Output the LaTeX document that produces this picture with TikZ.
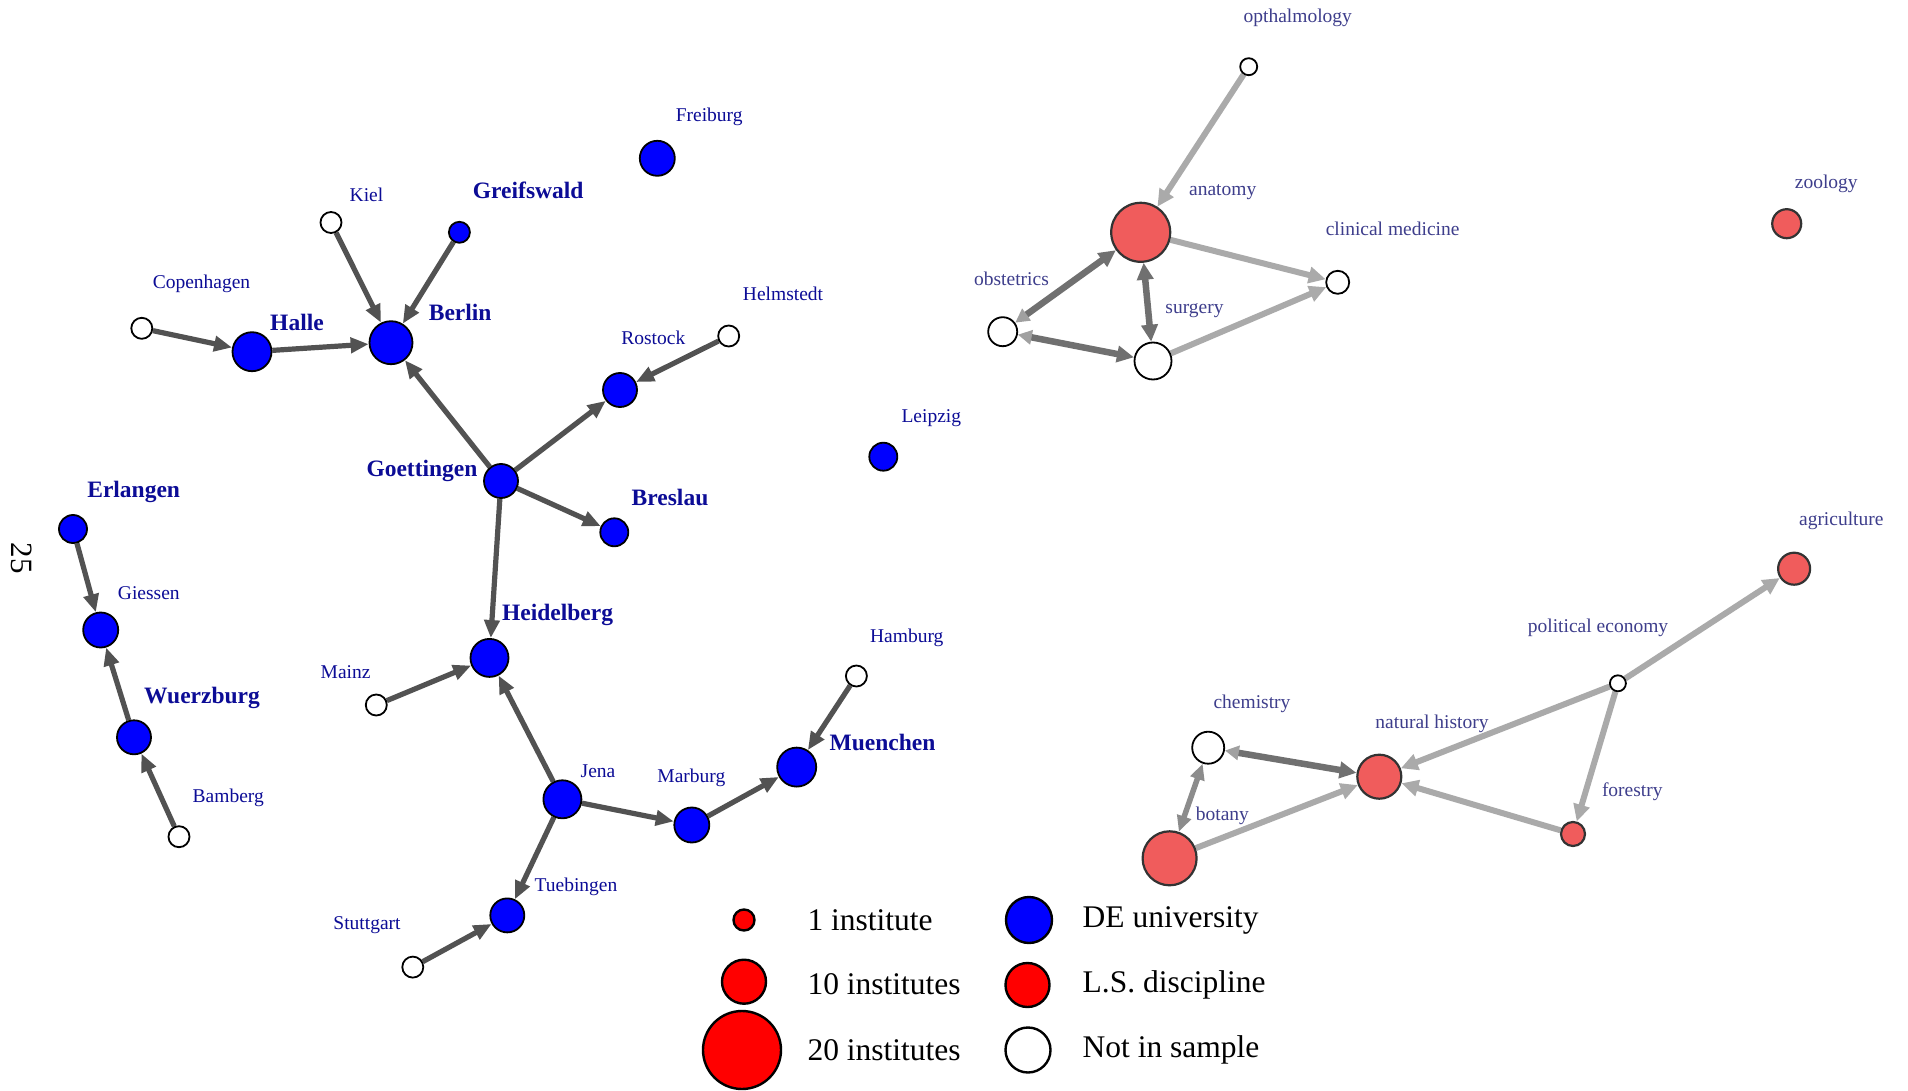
\documentclass[tikz,border=0pt]{standalone}
\usepackage{fontspec}
\setmainfont{Liberation Serif}
\usetikzlibrary{arrows.meta}
\definecolor{labblue}{RGB}{12,12,150}
\definecolor{rlabcol}{RGB}{62,62,140}
\definecolor{lsred}{RGB}{240,92,92}
\definecolor{ldark}{RGB}{82,82,82}
\definecolor{rdarkc}{RGB}{112,112,112}
\definecolor{rmidc}{RGB}{140,140,140}
\definecolor{rlightc}{RGB}{170,170,170}
\definecolor{tipsoft}{RGB}{160,160,160}
\pgfdeclarelayer{bgfill}
\pgfdeclarelayer{edges}
\pgfsetlayers{bgfill,edges,main}
\tikzset{
  sz/.style={minimum size=#1pt},
  uni/.style={circle, draw=black, fill=blue, line width=1.8pt, inner sep=0pt},
  nis/.style={circle, draw=black, fill=white, line width=1.8pt, inner sep=0pt},
  lsd/.style={circle, draw=black!80, fill=lsred, line width=2.2pt, inner sep=0pt},
  legred/.style={circle, draw=black, fill=red, line width=2.4pt, inner sep=0pt},
  legblue/.style={circle, draw=black, fill=blue, line width=2.4pt, inner sep=0pt},
  legwhite/.style={circle, draw=black, fill=white, line width=2.4pt, inner sep=0pt},
  lab/.style={text=labblue, font=\fontsize{19.5}{20}\selectfont, inner sep=0pt},
  blab/.style={text=labblue, font=\fontsize{23.5}{24}\selectfont\bfseries, inner sep=0pt},
  rlab/.style={text=rlabcol, font=\fontsize{19.5}{20}\selectfont, inner sep=0pt},
  legtxt/.style={text=black, font=\fontsize{31.5}{32}\selectfont, inner sep=0pt, anchor=west},
  ledge/.style={draw=ldark, line width=5.2pt, -{Triangle[length=18pt,width=15pt,color=ldark]}},
  rdark/.style={draw=rdarkc, line width=6.5pt, -{Triangle[length=17pt,width=16pt,color=rdarkc]}},
  rdarkbi/.style={draw=rdarkc, line width=6.5pt, {Triangle[length=14pt,width=14pt,color=tipsoft]}-{Triangle[length=17pt,width=16pt,color=rdarkc]}},
  rdarkbb/.style={draw=rdarkc, line width=6.5pt, {Triangle[length=17pt,width=16pt,color=rdarkc]}-{Triangle[length=17pt,width=16pt,color=rdarkc]}},
  rmidbi/.style={draw=rmidc, line width=5.5pt, {Triangle[length=16pt,width=14pt,color=rmidc]}-{Triangle[length=16pt,width=14pt,color=rmidc]}},
  rlight/.style={draw=rlightc, line width=6pt, -{Triangle[length=17pt,width=16pt,color=rlightc]}},
}
\begin{document}
\begin{tikzpicture}[x=1pt,y=-1pt]
\begin{pgfonlayer}{bgfill}
\path[use as bounding box, fill=white] (0,0) rectangle (1908,1091);
\end{pgfonlayer}

% ---------- left network: nodes ----------
\node[nis,sz=21]  (kiel)   at (331,222.5) {};
\node[uni,sz=21]  (greif)  at (459.4,232.3) {};
\node[nis,sz=21]  (copen)  at (141.8,328.3) {};
\node[uni,sz=39]  (halle)  at (252,351.7) {};
\node[uni,sz=43]  (berlin) at (391,342.7) {};
\node[uni,sz=34]  (goett)  at (501,481) {};
\node[uni,sz=34]  (rostock) at (620,390) {};
\node[nis,sz=21]  (helm)   at (728.7,336) {};
\node[uni,sz=35]  (freib)  at (657.3,158.3) {};
\node[uni,sz=28]  (leipz)  at (883.3,456.7) {};
\node[uni,sz=28]  (bresl)  at (614.3,532.3) {};
\node[uni,sz=38]  (heidel) at (489.5,657.9) {};
\node[nis,sz=21]  (mainz)  at (376.3,705) {};
\node[uni,sz=38]  (jena)   at (562.4,799.3) {};
\node[uni,sz=35]  (marb)   at (691.8,825) {};
\node[uni,sz=39]  (muen)   at (796.7,767.1) {};
\node[nis,sz=21]  (hamb)   at (856.4,676) {};
\node[uni,sz=34]  (tueb)   at (507.3,915.4) {};
\node[nis,sz=21]  (stutt)  at (412.8,967.1) {};
\node[uni,sz=28]  (erl)    at (73,529) {};
\node[uni,sz=35]  (giess)  at (100.7,630) {};
\node[uni,sz=34]  (wuerz)  at (134,737.3) {};
\node[nis,sz=21]  (bamb)   at (179,836.7) {};

% ---------- left network: labels ----------
\node[lab]  (l-kiel)   at (366.5,195) {Kiel};
\node[blab] (l-greif)  at (528.2,190.5) {Greifswald};
\node[lab]  (l-copen)  at (201.5,284) {Copenhagen};
\node[blab] (l-halle)  at (297,322) {Halle};
\node[blab] (l-berlin) at (460.2,312.5) {Berlin};
\node[blab] (l-goett)  at (422,470.5) {Goettingen};
\node[lab]  (l-rostock) at (653.3,337.5) {Rostock};
\node[lab]  (l-helm)   at (783,294) {Helmstedt};
\node[lab]  (l-freib)  at (709.2,116.5) {Freiburg};
\node[lab]  (l-leipz)  at (931.3,418) {Leipzig};
\node[blab] (l-bresl)  at (670,497) {Breslau};
\node[blab] (l-heidel) at (557.5,615) {Heidelberg};
\node[lab]  (l-mainz)  at (345.6,672.5) {Mainz};
\node[lab]  (l-jena)   at (598,771) {Jena};
\node[lab]  (l-marb)   at (691.4,778) {Marburg};
\node[blab] (l-muen)   at (882.6,742.5) {Muenchen};
\node[lab]  (l-hamb)   at (906.8,638) {Hamburg};
\node[lab]  (l-tueb)   at (576,887) {Tuebingen};
\node[lab]  (l-stutt)  at (367,925) {Stuttgart};
\node[blab] (l-erl)    at (133.7,491.5) {Erlangen};
\node[lab]  (l-giess)  at (148.8,593.5) {Giessen};
\node[blab] (l-wuerz)  at (202,697.5) {Wuerzburg};
\node[lab]  (l-bamb)   at (228.3,797.5) {Bamberg};

% ---------- right network: nodes ----------
\node[nis,sz=17]  (opth) at (1248.7,66.7) {};
\node[lsd,sz=59]  (anat) at (1140.7,232.3) {};
\node[nis,sz=23]  (clin) at (1337.7,282.3) {};
\node[nis,sz=29]  (obst) at (1002.7,331.7) {};
\node[nis,sz=37]  (surg) at (1153,361) {};
\node[lsd,sz=29]  (zool) at (1786.7,223.7) {};
\node[lsd,sz=32]  (agri) at (1794.1,568.7) {};
\node[nis,sz=16]  (pole) at (1617.9,683.3) {};
\node[nis,sz=32]  (chem) at (1208.2,747.7) {};
\node[lsd,sz=44]  (nath) at (1379.3,776.7) {};
\node[lsd,sz=24]  (fore) at (1573,834) {};
\node[lsd,sz=54]  (bota) at (1169.6,858.3) {};

% ---------- right network: labels ----------
\node[rlab] (l-opth) at (1297.8,17.5) {opthalmology};
\node[rlab] (l-anat) at (1222.7,192.5) {anatomy};
\node[rlab] (l-clin) at (1392.6,229) {clinical medicine};
\node[rlab] (l-obst) at (1011.5,279) {obstetrics};
\node[rlab] (l-surg) at (1194.5,311) {surgery};
\node[rlab] (l-zool) at (1826.3,184) {zoology};
\node[rlab] (l-agri) at (1841.3,520.5) {agriculture};
\node[rlab] (l-pole) at (1598,628) {political economy};
\node[rlab] (l-chem) at (1252,703.5) {chemistry};
\node[rlab] (l-nath) at (1432,723.5) {natural history};
\node[rlab] (l-fore) at (1632.3,792) {forestry};
\node[rlab] (l-bota) at (1222.4,816) {botany};

% ---------- edges ----------
\begin{pgfonlayer}{edges}
\draw[ledge] (kiel) -- (berlin);
\draw[ledge] (greif) -- (berlin);
\draw[ledge] (copen) -- (halle);
\draw[ledge] (halle) -- (berlin);
\draw[ledge] (goett) -- (berlin);
\draw[ledge] (goett) -- (rostock);
\draw[ledge] (helm) -- (rostock);
\draw[ledge] (goett) -- (bresl);
\draw[ledge] (goett) -- (heidel);
\draw[ledge] (mainz) -- (heidel);
\draw[ledge] (jena) -- (heidel);
\draw[ledge] (jena) -- (marb);
\draw[ledge] (marb) -- (muen);
\draw[ledge] (hamb) -- (muen);
\draw[ledge] (jena) -- (tueb);
\draw[ledge] (stutt) -- (tueb);
\draw[ledge] (erl) -- (giess);
\draw[ledge] (wuerz) -- (giess);
\draw[ledge] (bamb) -- (wuerz);

\draw[rlight] (opth) -- (anat);
\draw[rlight] (anat) -- (clin);
\draw[rlight] (surg) -- (clin);
\draw[rdarkbi] (obst) -- (anat);
\draw[rdarkbb] (anat) -- (surg);
\draw[rdarkbi] (obst) -- (surg);
\draw[rlight] (pole) -- (agri);
\draw[rlight] (pole) -- (nath);
\draw[rlight] (pole) -- (fore);
\draw[rlight] (fore) -- (nath);
\draw[rdarkbi] (chem) -- (nath);
\draw[rlight] (bota) -- (nath);
\draw[rmidbi] (bota) -- (chem);
\end{pgfonlayer}

% ---------- page number ----------
\node[rotate=-90, font=\fontsize{31}{32}\selectfont, inner sep=0pt] (pagenum) at (21.7,558.3) {25};

% ---------- legend ----------
\node[legred,sz=21]   (lg1)  at (744,920) {};
\node[legred,sz=44]   (lg10) at (744,981.7) {};
\node[legred,sz=78]   (lg20) at (742,1050) {};
\node[legblue,sz=46]  (lgde) at (1029,920) {};
\node[legred,sz=44]   (lgls) at (1027.5,985) {};
\node[legwhite,sz=45] (lgni) at (1028,1050) {};
\node[legtxt] (t1)  at (807.3,920) {1 institute};
\node[legtxt] (t10) at (807.3,984) {10 institutes};
\node[legtxt] (t20) at (807.3,1050) {20 institutes};
\node[legtxt] (tde) at (1082.5,920) {DE university};
\node[legtxt] (tls) at (1082.5,985) {L.S. discipline};
\node[legtxt] (tni) at (1082.5,1050) {Not in sample};
\end{tikzpicture}
\end{document}
